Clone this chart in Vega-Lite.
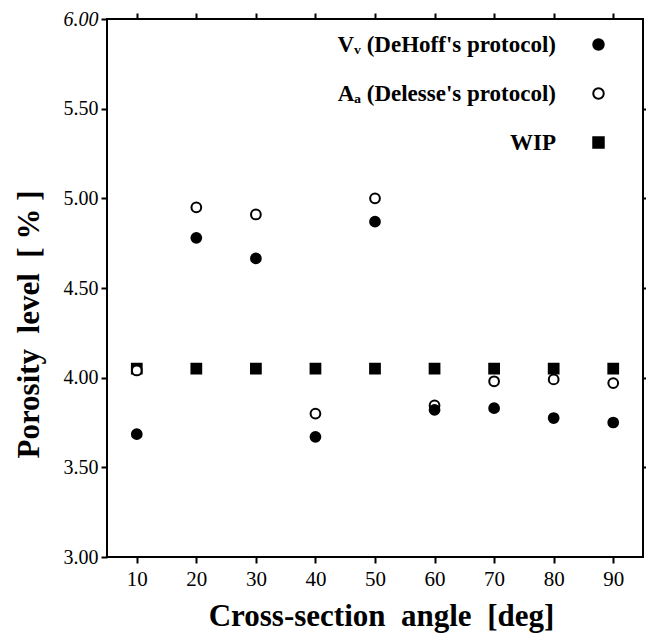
{
  "$schema": "https://vega.github.io/schema/vega-lite/v6.json",
  "width": 536,
  "height": 538,
  "autosize": "none",
  "padding": {"left": 107, "top": 19, "right": 3, "bottom": 79},
  "background": "white",
  "config": {
    "view": {"stroke": "black", "strokeWidth": 2},
    "font": "Liberation Serif"
  },
  "data": {
    "values": [
      {"angle": 10, "porosity": 4.05, "method": "WIP"},
      {"angle": 20, "porosity": 4.05, "method": "WIP"},
      {"angle": 30, "porosity": 4.05, "method": "WIP"},
      {"angle": 40, "porosity": 4.05, "method": "WIP"},
      {"angle": 50, "porosity": 4.05, "method": "WIP"},
      {"angle": 60, "porosity": 4.05, "method": "WIP"},
      {"angle": 70, "porosity": 4.05, "method": "WIP"},
      {"angle": 80, "porosity": 4.05, "method": "WIP"},
      {"angle": 90, "porosity": 4.05, "method": "WIP"},
      {"angle": 10, "porosity": 4.04, "method": "Aₐ (Delesse's protocol)"},
      {"angle": 20, "porosity": 4.95, "method": "Aₐ (Delesse's protocol)"},
      {"angle": 30, "porosity": 4.91, "method": "Aₐ (Delesse's protocol)"},
      {"angle": 40, "porosity": 3.80, "method": "Aₐ (Delesse's protocol)"},
      {"angle": 50, "porosity": 5.00, "method": "Aₐ (Delesse's protocol)"},
      {"angle": 60, "porosity": 3.845, "method": "Aₐ (Delesse's protocol)"},
      {"angle": 70, "porosity": 3.98, "method": "Aₐ (Delesse's protocol)"},
      {"angle": 80, "porosity": 3.99, "method": "Aₐ (Delesse's protocol)"},
      {"angle": 90, "porosity": 3.97, "method": "Aₐ (Delesse's protocol)"},
      {"angle": 10, "porosity": 3.685, "method": "Vᵥ (DeHoff's protocol)"},
      {"angle": 20, "porosity": 4.78, "method": "Vᵥ (DeHoff's protocol)"},
      {"angle": 30, "porosity": 4.665, "method": "Vᵥ (DeHoff's protocol)"},
      {"angle": 40, "porosity": 3.67, "method": "Vᵥ (DeHoff's protocol)"},
      {"angle": 50, "porosity": 4.87, "method": "Vᵥ (DeHoff's protocol)"},
      {"angle": 60, "porosity": 3.82, "method": "Vᵥ (DeHoff's protocol)"},
      {"angle": 70, "porosity": 3.83, "method": "Vᵥ (DeHoff's protocol)"},
      {"angle": 80, "porosity": 3.775, "method": "Vᵥ (DeHoff's protocol)"},
      {"angle": 90, "porosity": 3.75, "method": "Vᵥ (DeHoff's protocol)"}
    ]
  },
  "layer": [
    {
      "mark": {"type": "point", "filled": true, "strokeWidth": 2, "size": 95, "opacity": 1},
      "encoding": {
        "x": {
          "field": "angle", "type": "quantitative",
          "scale": {"domain": [5, 95], "nice": false, "zero": false},
          "axis": {
            "values": [10, 20, 30, 40, 50, 60, 70, 80, 90],
            "domain": false, "grid": false,
            "tickColor": "black", "tickSize": 6, "tickWidth": 2,
            "labelFontSize": 21, "labelColor": "black", "labelPadding": 5,
            "title": "Cross-section\u00a0\u00a0angle\u00a0\u00a0[deg]",
            "titleFontSize": 31, "titleFontWeight": "bold", "titleColor": "black", "titlePadding": 12,
            "titleX": 274
          }
        },
        "y": {
          "field": "porosity", "type": "quantitative",
          "scale": {"domain": [3, 6], "nice": false, "zero": false},
          "axis": {
            "values": [3, 3.5, 4, 4.5, 5, 5.5, 6],
            "format": ".2f",
            "domain": false, "grid": false,
            "tickColor": "black", "tickSize": 6, "tickWidth": 2,
            "labelFontSize": 20, "labelColor": "black", "labelPadding": 3,
            "labelFontStyle": {"condition": {"test": "datum.value == 6", "value": "italic"}, "value": "normal"},
            "title": "Porosity\u00a0\u00a0level\u00a0\u00a0[\u00a0%\u00a0]",
            "titleFontSize": 31, "titleFontWeight": "bold", "titleColor": "black", "titlePadding": 18,
            "titleY": 305
          }
        },
        "fill": {
          "field": "method", "type": "nominal",
          "scale": {
            "domain": ["Vᵥ (DeHoff's protocol)", "Aₐ (Delesse's protocol)", "WIP"],
            "range": ["black", "white", "black"]
          }
        },
        "stroke": {
          "field": "method", "type": "nominal",
          "scale": {
            "domain": ["Vᵥ (DeHoff's protocol)", "Aₐ (Delesse's protocol)", "WIP"],
            "range": ["black", "black", "black"]
          }
        },
        "shape": {
          "field": "method", "type": "nominal",
          "scale": {
            "domain": ["Vᵥ (DeHoff's protocol)", "Aₐ (Delesse's protocol)", "WIP"],
            "range": ["circle", "circle", "square"]
          },
          "legend": {
            "orient": "none", "legendX": 480, "legendY": 14,
            "title": null,
            "labelAlign": "right", "labelOffset": -54,
            "labelFontSize": 23, "labelFontWeight": "bold", "labelColor": "black",
            "labelLimit": 400,
            "rowPadding": 25,
            "symbolSize": 110, "symbolStrokeWidth": 2
          }
        }
      }
    },
    {
      "mark": {"type": "rule", "opacity": 0},
      "encoding": {
        "x": {"field": "angle", "type": "quantitative", "axis": {"orient": "top", "values": [10, 20, 30, 40, 50, 60, 70, 80, 90], "labels": false, "domain": false, "grid": false, "tickColor": "black", "tickSize": 6, "tickWidth": 2, "title": null}},
        "y": {"field": "porosity", "type": "quantitative", "axis": {"orient": "right", "values": [3.5, 4, 4.5, 5, 5.5], "labels": false, "domain": false, "grid": false, "tickColor": "black", "tickSize": 3, "tickWidth": 2, "title": null}}
      }
    }
  ],
  "resolve": {"axis": {"x": "independent", "y": "independent"}}
}
